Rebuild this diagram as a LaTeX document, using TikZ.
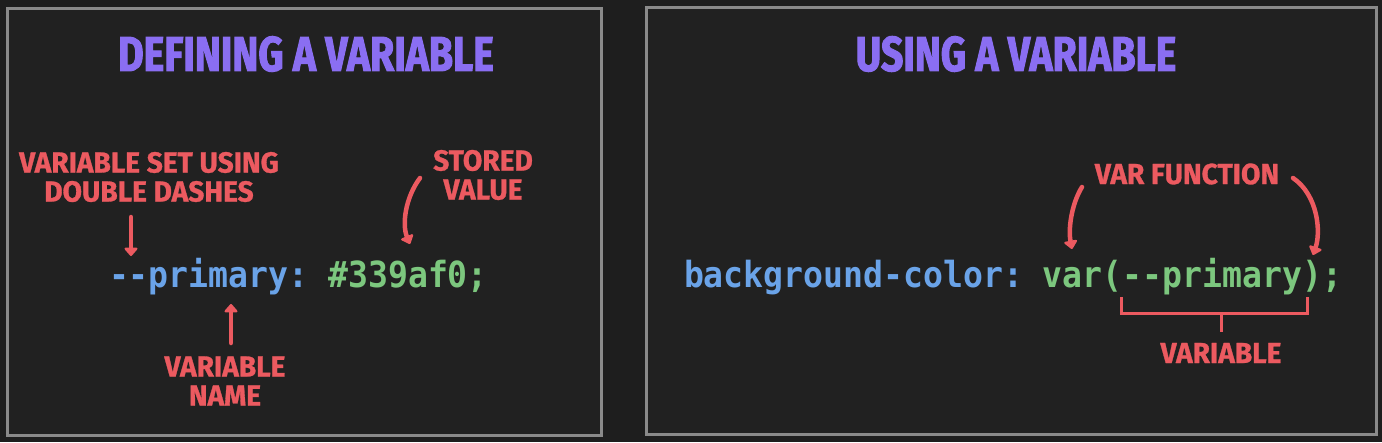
\documentclass[tikz,border=0pt]{standalone}
\usepackage{fontspec}
\usepackage{tikz}
\usetikzlibrary{positioning}
\usetikzlibrary{arrows.meta}
\setmonofont[FakeStretch=0.92]{DejaVu Sans Mono}
\newfontfamily\titlefont[FakeStretch=0.8,FakeBold=2]{Fira Sans Bold}
\newfontfamily\notefont[FakeStretch=0.97,FakeBold=1]{Fira Sans Bold}
\definecolor{bgdark}{HTML}{1E1E1E}
\definecolor{panelfill}{HTML}{212121}
\definecolor{panelline}{HTML}{8A8A8A}
\definecolor{titlepurple}{HTML}{8A6EF2}
\definecolor{notered}{HTML}{EC5A60}
\definecolor{codeblue}{HTML}{6AA3E8}
\definecolor{codegreen}{HTML}{7CC77E}

\begin{document}
\begin{tikzpicture}[x=1pt, y=-1pt,
                          panelbox/.style={rectangle, draw=panelline, fill=panelfill, line width=3pt},
                          titlenode/.style={text=titlepurple, font=\titlefont\fontsize{49}{50}\selectfont, inner sep=0pt},
                          codenode/.style={inner sep=0pt, outer sep=0pt, font=\ttfamily\bfseries\fontsize{36}{36}\selectfont},
                          notenode/.style={text=notered, align=center, inner sep=0pt, font=\notefont\fontsize{29}{29}\selectfont},
                          pointer/.style={draw=notered, line width=4.5pt, line cap=round, -{Triangle[round, length=9pt, width=15pt]}},
                          bracketline/.style={draw=notered, line width=3pt},
                      ]
                      \fill[bgdark] (0,0) rectangle (1382,442);
                      \useasboundingbox (0,0) rectangle (1382,442);

                      % Panels
                      \draw[panelbox] (7,8) rectangle (601,435);
                      \draw[panelbox] (646,7) rectangle (1376,434);

                      % Nodes
                      \node[titlenode]        (define_title)     at (306,54)      {DEFINING A VARIABLE};
                      \node[titlenode]        (use_title)        at (1016,54)     {USING A VARIABLE};

                      \node[codenode, anchor=base west, text=codeblue]   (var_name)    at (109,287)   {--primary:};
                      \node[codenode, text=codegreen]   (var_value)   [base right=19.94pt of var_name]   {\#339af0;};

                      \node[codenode, anchor=base west, text=codeblue]   (bg_prop)     at (684,287)   {background-color:};
                      \node[codenode, text=codegreen]   (var_open)    [base right=19.94pt of bg_prop]   {var(};
                      \node[codenode, text=codegreen]   (var_ref)     [base right=0pt of var_open]      {--primary};
                      \node[codenode, text=codegreen]   (var_close)   [base right=0pt of var_ref]       {);};

                      \node[notenode]        (dash_note)      at (149,177)     {VARIABLE SET USING\\DOUBLE DASHES};
                      \node[notenode]        (stored_note)    at (483,175)     {STORED\\VALUE};
                      \node[notenode]        (name_note)      at (225,381)     {VARIABLE\\NAME};
                      \node[notenode]        (func_note)      at (1187,174)    {VAR FUNCTION};
                      \node[notenode]        (ref_note)       at (1221,353)    {VARIABLE};

                      % Arrow ends
                      \coordinate (dash_from)   at (131,217);
                      \coordinate (dash_to)     at (131,256);
                      \coordinate (name_from)   at (231,343);
                      \coordinate (name_to)     at (231,304);
                      \coordinate (stored_from) at (420,178);
                      \coordinate (stored_to)   at (410,244);
                      \coordinate (open_from)   at (1082,187);
                      \coordinate (open_to)     at (1072,249);
                      \coordinate (close_from)  at (1293,178);
                      \coordinate (close_to)    at (1313,255);
                      \coordinate (brace_left)  at (1121,297);
                      \coordinate (brace_right) at (1307,297);
                      \coordinate (brace_stem)  at (1221,313);
                      \coordinate (brace_foot)  at (1221,332);

                      %Lines
                      \draw[pointer] (dash_from) -- (dash_to);
                      \draw[pointer] (name_from) -- (name_to);
                      \draw[pointer] (stored_from) .. controls (405,198) and (402,225) .. (stored_to);
                      \draw[pointer] (open_from) .. controls (1072,203) and (1068,228) .. (open_to);
                      \draw[pointer] (close_from) .. controls (1318,195) and (1321,232) .. (close_to);
                      \draw[bracketline] (brace_left) -- ++(0,16) -| (brace_right);
                      \draw[bracketline] (brace_stem) -- (brace_foot);
                  \end{tikzpicture}
\end{document}
